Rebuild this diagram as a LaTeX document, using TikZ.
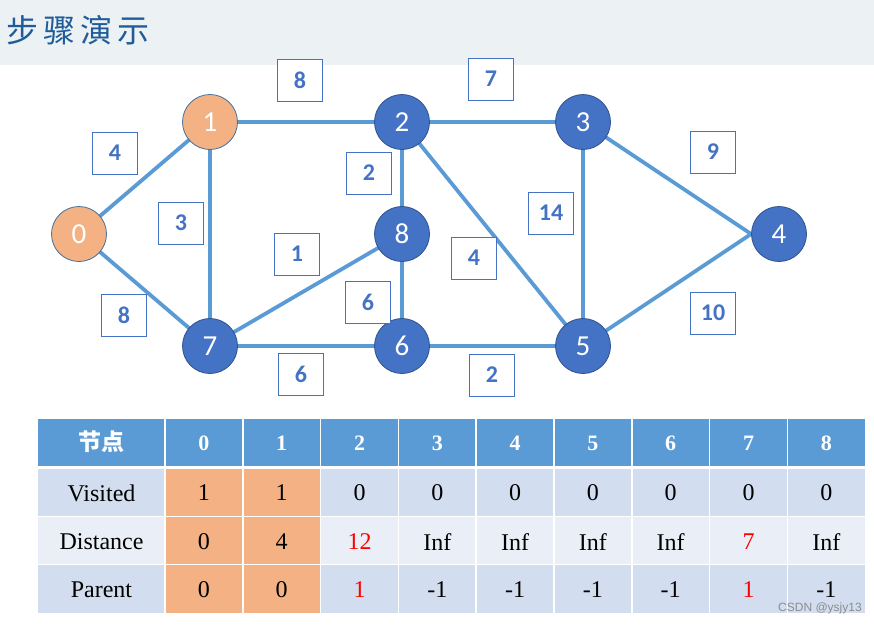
\documentclass[tikz,border=0pt]{standalone}
\usepackage{fontspec}
\setmainfont{Liberation Serif}
\newfontfamily\cjk{Noto Sans CJK SC}
\newfontfamily\cali{Carlito}
\newfontfamily\wmfont{Liberation Sans}
\usetikzlibrary{backgrounds}
\definecolor{edgeblue}{HTML}{5B9BD5}
\definecolor{nodeblue}{HTML}{4472C4}
\definecolor{nodeborder}{HTML}{2F528F}
\definecolor{orangefill}{HTML}{F4B183}
\definecolor{orangeborder}{HTML}{41719C}
\definecolor{banner}{HTML}{ECF1F3}
\definecolor{titleblue}{HTML}{1F5C99}
\definecolor{headblue}{HTML}{5B9BD5}
\definecolor{rowA}{HTML}{D2DEEF}
\definecolor{rowB}{HTML}{EAEFF7}
\definecolor{labelblue}{HTML}{4472C4}
\begin{document}
\begin{tikzpicture}[x=1pt,y=-1pt,
  gnode/.style={circle, minimum size=55pt, inner sep=0pt, draw=nodeborder, line width=0.8pt,
    fill=nodeblue, text=white, font=\cali\fontsize{29}{29}\selectfont},
  donenode/.style={gnode, fill=orangefill, draw=orangeborder},
  gedge/.style={draw=edgeblue, line width=3.8pt},
  wlabel/.style={draw=labelblue, line width=0.8pt, fill=white, minimum width=45pt, minimum height=42pt,
    inner sep=0pt, text=labelblue, font=\cali\bfseries\fontsize{24}{24}\selectfont},
  cell/.style={inner sep=0pt, font=\fontsize{24}{24}\selectfont},
  headcell/.style={inner sep=0pt, text=white, font=\bfseries\fontsize{22}{22}\selectfont},
  gridline/.style={draw=white, line width=1.5pt}
]
\useasboundingbox (0,0) rectangle (874,625);
% banner
\fill[banner] (0,0) rectangle (874,65);
\node[anchor=west, inner sep=0pt, text=titleblue, font=\cjk\fontsize{32}{34}\selectfont] (title) at (6,30) {步\hspace{5pt}骤\hspace{5pt}演\hspace{5pt}示};

% graph nodes
\node[donenode] (n0) at (79,234) {0};
\node[donenode] (n1) at (210,122) {1};
\node[gnode] (n2) at (402,122) {2};
\node[gnode] (n3) at (583,122) {3};
\node[gnode] (n4) at (779,234) {4};
\node[gnode] (n5) at (583,346) {5};
\node[gnode] (n6) at (402,346) {6};
\node[gnode] (n7) at (210,346) {7};
\node[gnode] (n8) at (402,234) {8};

\begin{scope}[on background layer]
\draw[gedge] (n0.center) -- (n1.center);
\draw[gedge] (n0.center) -- (n7.center);
\draw[gedge] (n1.center) -- (n2.center);
\draw[gedge] (n1.center) -- (n7.center);
\draw[gedge] (n2.center) -- (n3.center);
\draw[gedge] (n2.center) -- (n8.center);
\draw[gedge] (n2.center) -- (n5.center);
\draw[gedge] (n8.center) -- (n7.center);
\draw[gedge] (n8.center) -- (n6.center);
\draw[gedge] (n7.center) -- (n6.center);
\draw[gedge] (n6.center) -- (n5.center);
\draw[gedge] (n3.center) -- (n5.center);
\draw[gedge] (n3.center) -- (n4.west);
\draw[gedge] (n5.center) -- (n4.west);
\end{scope}

% edge weight labels
\node[wlabel] (w12) at (300,80) {8};
\node[wlabel] (w01) at (115,153) {4};
\node[wlabel] (w17) at (181,223) {3};
\node[wlabel] (w87) at (297,254) {1};
\node[wlabel] (w07) at (124,315) {8};
\node[wlabel] (w76) at (301,374) {6};
\node[wlabel] (w23) at (491,79) {7};
\node[wlabel] (w28) at (369,173) {2};
\node[wlabel] (w35) at (551,213) {14};
\node[wlabel] (w25) at (474,258) {4};
\node[wlabel] (w86) at (368,302) {6};
\node[wlabel] (w65) at (492,375) {2};
\node[wlabel] (w34) at (713,152) {9};
\node[wlabel] (w54) at (713,313) {10};

% table backgrounds
\fill[headblue] (38,419) rectangle (865,467);
\fill[rowA] (38,467) rectangle (865,516.5);
\fill[rowB] (38,516.5) rectangle (865,564.5);
\fill[rowA] (38,564.5) rectangle (865,613);
\fill[orangefill] (165,467) rectangle (320.6,613);
% grid
\foreach \k in {0,...,8} {
  \draw[gridline] ({165+77.8*\k},419) -- ({165+77.8*\k},613);
}
\draw[draw=white, line width=3pt] (38,467.5) -- (865,467.5);
\draw[gridline] (38,516.5) -- (865,516.5);
\draw[gridline] (38,564.5) -- (865,564.5);

% header
\node[headcell, font=\cjk\bfseries\fontsize{23}{23}\selectfont] (h-label) at (101.5,442) {节点};
\foreach \t [count=\i from 0] in {0,1,2,3,4,5,6,7,8} {
  \node[headcell] (h-\i) at ({165+77.8*(\i+0.5)},443) {\t};
}
% rows
\node[cell] (r1-label) at (101.5,493) {Visited};
\foreach \t [count=\i from 0] in {1,1,0,0,0,0,0,0,0} {
  \node[cell] (r1-\i) at ({165+77.8*(\i+0.5)},493) {\t};
}
\node[cell] (r2-label) at (101.5,542) {Distance};
\foreach \t [count=\i from 0] in {0,4,{\color{red}12},Inf,Inf,Inf,Inf,{\color{red}7},Inf} {
  \node[cell] (r2-\i) at ({165+77.8*(\i+0.5)},542) {\t};
}
\node[cell] (r3-label) at (101.5,590) {Parent};
\foreach \t [count=\i from 0] in {0,0,{\color{red}1},-1,-1,-1,-1,{\color{red}1},-1} {
  \node[cell] (r3-\i) at ({165+77.8*(\i+0.5)},590) {\t};
}
% watermark
\node[inner sep=0pt, text=black!45, font=\wmfont\fontsize{12}{12}\selectfont] (wm) at (820,608) {CSDN @ysjy13};
\end{tikzpicture}
\end{document}
